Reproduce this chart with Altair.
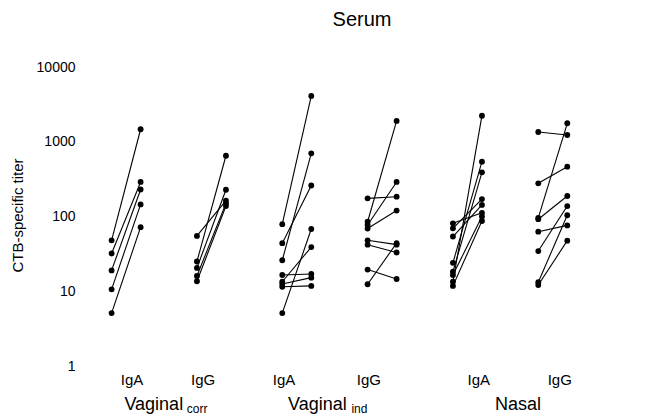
import altair as alt
import pandas as pd

# ---- data (titers, pre -> post, paired per subject) ----
groups = ["Vaginal corr IgA", "Vaginal corr IgG", "Vaginal ind IgA",
          "Vaginal ind IgG", "Nasal IgA", "Nasal IgG"]
isotype_labels = ["IgA", "IgG", "IgA", "IgG", "IgA", "IgG"]

vc_iga_pre = [48, 32, 19, 10.6, 5.1]
vc_iga_post = [1470, 290, 230, 145, 72]

vc_igg_pre = [55, 25, 20.5, 16, 13.6]
vc_igg_post = [163, 650, 228, 150, 138]

vi_iga_pre = [79, 44, 26, 16.5, 13.4, 12.5, 11.5, 5.1]
vi_iga_post = [4100, 260, 700, 17, 39, 15.2, 11.8, 68]

vi_igg_pre = [175, 85, 77, 69, 48, 42, 19.5, 12.4]
vi_igg_post = [184, 1900, 290, 120, 42, 33, 14.6, 44]

na_iga_pre = [81, 69.5, 54, 24, 18.3, 16.5, 13.4, 11.8]
na_iga_post = [112, 171, 143, 541, 390, 100, 2230, 87]

na_igg_pre = [1350, 278, 96, 92, 62.6, 34.5, 13.2, 12.1]
na_igg_post = [1231, 464, 1766, 188, 76, 138, 104, 47.5]

group_labels = ["Vaginal", "Vaginal", "Nasal"]
group_subs = ["corr", "ind", ""]

pre_lists = [vc_iga_pre, vc_igg_pre, vi_iga_pre, vi_igg_pre, na_iga_pre, na_igg_pre]
post_lists = [vc_iga_post, vc_igg_post, vi_iga_post, vi_igg_post, na_iga_post, na_igg_post]

# ---- build long table ----
POST_SHIFT = 0.34  # horizontal spacing of pre/post columns within a group
rows = []
for g, (pre, post) in enumerate(zip(pre_lists, post_lists)):
    for i, (a, b) in enumerate(zip(pre, post)):
        sid = f"{g}-{i}"
        rows.append({"group": groups[g], "sid": sid, "time": "pre", "pos": g, "value": a})
        rows.append({"group": groups[g], "sid": sid, "time": "post", "pos": g + POST_SHIFT, "value": b})
df = pd.DataFrame(rows)

lab_rows = []
for k, (m, s) in enumerate(zip(group_labels, group_subs)):
    lab_rows.append({"k": k, "main": m, "sub": s, "pos": 2 * k + 0.5 + POST_SHIFT / 2})
labdf = pd.DataFrame(lab_rows)

FONT = "Liberation Sans"

xscale = alt.Scale(domain=[-0.3, 5.7], nice=False, zero=False)
yscale = alt.Scale(type="log", domain=[1, 10000], nice=False)

xaxis = alt.Axis(
    values=[0.234, 1.066, 2.014, 3.009, 4.297, 5.246],
    labelExpr="floor(datum.value) % 2 == 0 ? 'IgA' : 'IgG'",
    domain=False, ticks=False, grid=False, title=None,
    labelFontSize=15, labelPadding=6, labelColor="black", labelFont=FONT,
)
yaxis = alt.Axis(
    values=[1, 10, 100, 1000, 10000], format="d",
    domain=False, ticks=False, grid=False,
    title="CTB-specific titer", titleFontSize=15, titleFontWeight="normal",
    titleFont=FONT, titleColor="black", titleX=-69, titleY=148,
    titleAngle=-90, titleAlign="center", titleBaseline="middle",
    labelFontSize=14, labelPadding=11, labelColor="black", labelFont=FONT,
)

base = alt.Chart(df)
lines = base.mark_line(color="black", strokeWidth=1.1).encode(
    x=alt.X("pos:Q", scale=xscale, axis=xaxis),
    y=alt.Y("value:Q", scale=yscale, axis=yaxis),
    detail="sid:N",
    order="pos:Q",
)
points = base.mark_circle(color="black", opacity=1, size=34).encode(
    x=alt.X("pos:Q", scale=xscale),
    y=alt.Y("value:Q", scale=yscale),
)

layers = [lines, points]
main_dx = [-15, -22, 8]
sub_dx = [18, 12, 0]
for k in range(len(group_labels)):
    one = alt.Chart(labdf).transform_filter(alt.datum.k == k)
    layers.append(
        one.mark_text(fontSize=18, font=FONT, color="black", align="center",
                      baseline="alphabetic", dx=main_dx[k]).encode(
            x=alt.X("pos:Q", scale=xscale), y=alt.value(343), text="main:N")
    )
    if group_subs[k]:
        layers.append(
            one.mark_text(fontSize=12, font=FONT, color="black", align="left",
                          baseline="alphabetic", dx=sub_dx[k]).encode(
                x=alt.X("pos:Q", scale=xscale), y=alt.value(346), text="sub:N")
        )

chart = alt.layer(*layers).properties(
    width=512, height=299,
    background="white",
    title=alt.TitleParams("Serum", fontSize=20, font=FONT, fontWeight="normal",
                          color="black", anchor="middle", dx=20, offset=30),
    autosize=alt.AutoSizeParams(type="none"),
    padding={"left": 78, "top": 59, "right": 46, "bottom": 51},
).configure_view(strokeWidth=0)

chart.save("out.html", embed_options={"renderer": "svg", "actions": False})
